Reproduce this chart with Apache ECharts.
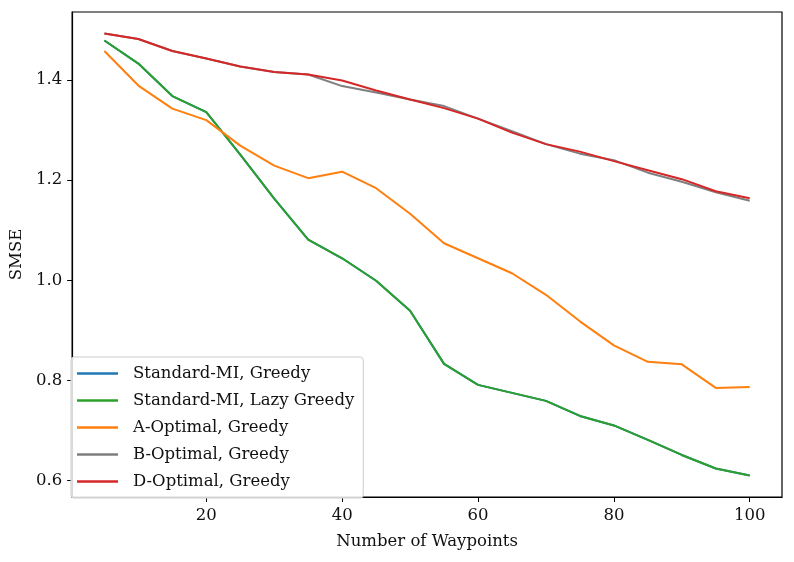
<!DOCTYPE html>
<html>
<head>
<meta charset="utf-8">
<script src="https://cdn.jsdelivr.net/npm/echarts@6/dist/echarts.min.js"></script>
<style>
html,body{margin:0;padding:0;background:#fff;}
#chart{width:794px;height:562px;}
</style>
</head>
<body>
<div id="chart"></div>
<script>
const waypoints = [5,10,15,20,25,30,35,40,45,50,55,60,65,70,75,80,85,90,95,100];
const miGreedy   = [1.479,1.433,1.368,1.336,1.251,1.163,1.081,1.044,0.999,0.939,0.833,0.791,0.775,0.759,0.729,0.710,0.681,0.651,0.624,0.610];
const miLazy     = [1.479,1.433,1.368,1.336,1.251,1.163,1.081,1.044,0.999,0.939,0.833,0.791,0.775,0.759,0.729,0.710,0.681,0.651,0.624,0.610];
const aOptimal   = [1.458,1.389,1.343,1.320,1.269,1.229,1.204,1.217,1.184,1.133,1.074,1.044,1.014,0.971,0.918,0.870,0.837,0.832,0.785,0.787];
const bOptimal   = [1.493,1.482,1.458,1.443,1.427,1.416,1.411,1.388,1.375,1.361,1.348,1.323,1.298,1.272,1.253,1.240,1.215,1.197,1.176,1.159];
const dOptimal   = [1.493,1.482,1.458,1.443,1.427,1.416,1.411,1.399,1.379,1.361,1.344,1.323,1.295,1.272,1.257,1.238,1.220,1.202,1.178,1.164];
const xTicks = [20,40,60,80,100];
const yTicks = [0.6,0.8,1.0,1.2,1.4];
const seriesNames = ['Standard-MI, Greedy','Standard-MI, Lazy Greedy','A-Optimal, Greedy','B-Optimal, Greedy','D-Optimal, Greedy'];
const seriesData = [miGreedy, miLazy, aOptimal, bOptimal, dOptimal];
const colors = ['#1f77b4','#2ca02c','#ff7f0e','#7f7f7f','#d62728'];

const font = 'DejaVu Serif';
const fs = 16.5;
const chart = echarts.init(document.getElementById('chart'));
chart.setOption({
  animation: false,
  color: colors,
  grid: {left: 71, right: 12, top: 12, bottom: 65, show: true, borderColor: '#000', borderWidth: 1.2, backgroundColor: 'transparent'},
  xAxis: {
    type: 'value', min: 0.25, max: 104.75,
    name: 'Number of Waypoints', nameLocation: 'middle', nameGap: 36,
    nameTextStyle: {fontFamily: font, fontSize: fs, color: '#111'},
    axisLine: {show: true, onZero: false, lineStyle: {color: '#000', width: 1.2}},
    axisTick: {show: true, length: 5, inside: false, customValues: xTicks, lineStyle: {color: '#000'}},
    axisLabel: {customValues: xTicks, fontFamily: font, fontSize: fs, color: '#111', margin: 10},
    splitLine: {show: false}
  },
  yAxis: {
    type: 'value', min: 0.567, max: 1.536,
    name: 'SMSE', nameLocation: 'middle', nameGap: 44,
    nameTextStyle: {fontFamily: font, fontSize: fs, color: '#111'},
    axisLine: {show: true, onZero: false, lineStyle: {color: '#000', width: 1.2}},
    axisTick: {show: true, length: 5, inside: false, customValues: yTicks, lineStyle: {color: '#000'}},
    axisLabel: {customValues: yTicks, fontFamily: font, fontSize: fs, color: '#111', margin: 10, formatter: v => v.toFixed(1)},
    splitLine: {show: false}
  },
  legend: {
    orient: 'vertical', left: 71, top: 357,
    icon: 'rect', itemWidth: 41, itemHeight: 2.5, itemGap: 8,
    padding: [7, 9, 7, 6],
    backgroundColor: 'rgba(255,255,255,0.85)', borderColor: '#cccccc', borderWidth: 1, borderRadius: 3,
    textStyle: {fontFamily: font, fontSize: fs, color: '#111', lineHeight: 19, padding: [0,0,0,10]},
    data: seriesNames
  },
  series: seriesNames.map((n, i) => ({
    name: n, type: 'line', symbol: 'none', showSymbol: false,
    data: waypoints.map((x, j) => [x, seriesData[i][j]]),
    lineStyle: {width: 2, color: colors[i]},
    itemStyle: {color: colors[i]},
    z: 2 + i
  }))
});
</script>
</body>
</html>
